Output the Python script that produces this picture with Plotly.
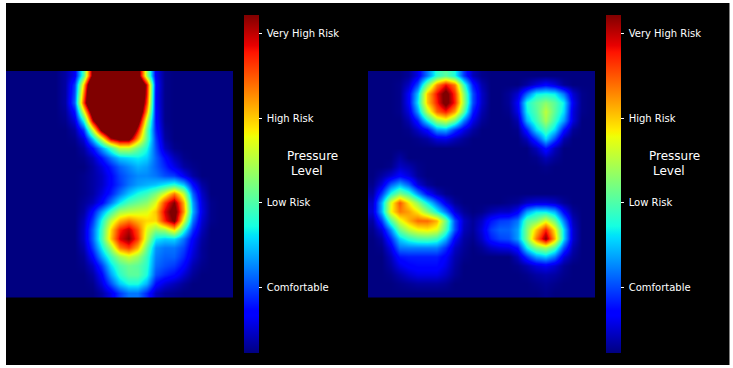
import plotly.graph_objects as go

W = 733
H = 368
TEXT_COLOR = "#FFFFFF"
FONT = "DejaVu Sans"

TICK_VALUES = [19.4, 44.4, 69.4, 94.4]
TICK_LABELS = ["\u00a0Comfortable", "\u00a0Low Risk", "\u00a0High Risk", "\u00a0Very High Risk"]

# pressure, 0-100, values over 100 clip to the darkest red
LEFT_PRESSURE = [
    [0, 0, 0, 0, 0, 0, 3, 10, 45, 105, 130, 140, 140, 135, 110, 55, 10, 1, 0, 0, 0, 0, 0, 0, 0],
    [0, 0, 0, 0, 0, 0, 3, 18, 70, 135, 150, 150, 150, 150, 135, 92, 12, 1, 0, 0, 0, 0, 0, 0, 0],
    [0, 0, 0, 0, 0, 0, 3, 20, 78, 140, 150, 150, 150, 150, 135, 90, 11, 1, 0, 0, 0, 0, 0, 0, 0],
    [0, 0, 0, 0, 0, 0, 3, 22, 85, 140, 150, 150, 150, 150, 130, 85, 11, 1, 0, 0, 0, 0, 0, 0, 0],
    [0, 0, 0, 0, 0, 0, 2, 14, 62, 115, 145, 150, 150, 150, 125, 74, 12, 1, 0, 0, 0, 0, 0, 0, 0],
    [0, 0, 0, 0, 0, 0, 1, 8, 38, 95, 130, 150, 150, 145, 110, 58, 13, 1, 0, 0, 0, 0, 0, 0, 0],
    [0, 0, 0, 0, 0, 0, 0, 3, 18, 60, 105, 130, 140, 130, 92, 48, 15, 2, 0, 0, 0, 0, 0, 0, 0],
    [0, 0, 0, 0, 0, 0, 0, 1, 8, 32, 60, 95, 105, 105, 75, 46, 18, 3, 0, 0, 0, 0, 0, 0, 0],
    [0, 0, 0, 0, 0, 0, 0, 0, 3, 13, 28, 42, 58, 58, 48, 38, 20, 6, 1, 0, 0, 0, 0, 0, 0],
    [0, 0, 0, 0, 0, 0, 0, 0, 1, 5, 14, 24, 32, 34, 36, 33, 22, 13, 5, 1, 0, 0, 0, 0, 0],
    [0, 0, 0, 0, 0, 0, 0, 0, 0, 3, 8, 15, 22, 26, 30, 28, 22, 16, 9, 3, 1, 0, 0, 0, 0],
    [0, 0, 0, 0, 0, 0, 0, 0, 1, 3, 6, 12, 19, 23, 26, 26, 24, 20, 18, 10, 3, 0, 0, 0, 0],
    [0, 0, 0, 0, 0, 0, 0, 0, 1, 3, 6, 12, 18, 24, 28, 30, 32, 36, 40, 32, 13, 3, 0, 0, 0],
    [0, 0, 0, 0, 0, 0, 0, 0, 1, 3, 8, 15, 24, 32, 38, 42, 50, 62, 78, 58, 22, 6, 0, 0, 0],
    [0, 0, 0, 0, 0, 0, 0, 0, 2, 5, 12, 24, 36, 44, 48, 52, 62, 85, 100, 72, 28, 8, 1, 0, 0],
    [0, 0, 0, 0, 0, 0, 0, 0, 3, 13, 28, 42, 55, 58, 60, 62, 70, 92, 106, 75, 30, 9, 1, 0, 0],
    [0, 0, 0, 0, 0, 0, 0, 0, 5, 18, 38, 58, 72, 78, 72, 68, 68, 88, 102, 62, 24, 7, 1, 0, 0],
    [0, 0, 0, 0, 0, 0, 0, 0, 6, 22, 42, 68, 88, 95, 82, 62, 52, 55, 68, 40, 17, 5, 0, 0, 0],
    [0, 0, 0, 0, 0, 0, 0, 0, 6, 22, 43, 70, 92, 100, 85, 58, 36, 33, 34, 24, 11, 3, 0, 0, 0],
    [0, 0, 0, 0, 0, 0, 0, 0, 4, 18, 36, 54, 78, 85, 72, 48, 27, 24, 24, 19, 9, 2, 0, 0, 0],
    [0, 0, 0, 0, 0, 0, 0, 0, 2, 12, 28, 42, 54, 60, 54, 42, 25, 22, 22, 16, 7, 2, 0, 0, 0],
    [0, 0, 0, 0, 0, 0, 0, 0, 1, 6, 18, 34, 44, 48, 46, 40, 23, 20, 18, 12, 4, 1, 0, 0, 0],
    [0, 0, 0, 0, 0, 0, 0, 0, 0, 3, 12, 28, 40, 46, 46, 38, 20, 16, 13, 7, 2, 0, 0, 0, 0],
    [0, 0, 0, 0, 0, 0, 0, 0, 0, 1, 8, 20, 32, 38, 38, 30, 13, 8, 5, 2, 0, 0, 0, 0, 0],
    [0, 0, 0, 0, 0, 0, 0, 0, 0, 0, 3, 9, 18, 24, 24, 16, 5, 2, 1, 0, 0, 0, 0, 0, 0],
]

RIGHT_PRESSURE = [
    [0, 0, 0, 0, 2, 9, 24, 40, 46, 38, 18, 5, 1, 0, 0, 0, 0, 0, 0, 0, 0, 0, 0, 0, 0],
    [0, 0, 0, 1, 6, 20, 50, 76, 90, 78, 42, 15, 4, 0, 0, 0, 0, 3, 8, 12, 8, 2, 0, 0, 0],
    [0, 0, 0, 1, 11, 32, 70, 90, 105, 86, 52, 20, 6, 0, 0, 2, 7, 22, 36, 38, 36, 24, 7, 1, 0],
    [0, 0, 0, 1, 11, 35, 70, 88, 105, 88, 54, 20, 6, 0, 0, 2, 11, 38, 46, 52, 46, 36, 10, 1, 0],
    [0, 0, 0, 1, 8, 28, 58, 80, 88, 74, 46, 15, 4, 0, 0, 1, 9, 36, 45, 58, 46, 34, 8, 1, 0],
    [0, 0, 0, 0, 4, 15, 36, 54, 60, 48, 25, 9, 2, 0, 0, 0, 4, 30, 42, 55, 42, 28, 8, 0, 0],
    [0, 0, 0, 0, 1, 6, 13, 28, 30, 18, 9, 3, 0, 0, 0, 0, 1, 15, 34, 44, 34, 14, 2, 0, 0],
    [0, 0, 0, 0, 0, 1, 3, 8, 9, 5, 2, 0, 0, 0, 0, 0, 0, 5, 18, 34, 20, 4, 0, 0, 0],
    [0, 0, 0, 0, 0, 0, 0, 0, 0, 0, 0, 0, 0, 0, 0, 0, 0, 0, 5, 14, 5, 0, 0, 0, 0],
    [0, 0, 0, 3, 0, 0, 0, 0, 0, 0, 0, 0, 0, 0, 0, 0, 0, 0, 1, 5, 2, 0, 0, 0, 0],
    [0, 0, 1, 6, 4, 1, 0, 0, 0, 0, 0, 0, 0, 0, 0, 0, 0, 0, 0, 1, 0, 0, 0, 0, 0],
    [0, 3, 7, 12, 8, 2, 0, 0, 0, 0, 0, 0, 0, 0, 0, 0, 0, 0, 0, 0, 0, 0, 0, 0, 0],
    [1, 8, 22, 30, 22, 8, 2, 0, 0, 0, 0, 0, 0, 0, 0, 0, 0, 0, 0, 0, 0, 0, 0, 0, 0],
    [3, 18, 38, 50, 42, 27, 13, 5, 1, 0, 0, 0, 0, 0, 0, 0, 0, 0, 0, 0, 0, 0, 0, 0, 0],
    [6, 30, 62, 82, 66, 52, 36, 22, 9, 2, 0, 0, 0, 0, 0, 1, 2, 6, 8, 8, 6, 2, 0, 0, 0],
    [7, 30, 64, 78, 74, 66, 52, 38, 24, 8, 2, 0, 1, 4, 6, 6, 11, 28, 36, 36, 30, 12, 2, 0, 0],
    [3, 18, 44, 62, 72, 80, 80, 72, 48, 20, 6, 2, 6, 14, 18, 19, 24, 45, 50, 62, 48, 25, 5, 0, 0],
    [1, 8, 26, 48, 58, 64, 66, 62, 44, 20, 5, 2, 8, 18, 22, 22, 28, 50, 70, 88, 66, 34, 7, 0, 0],
    [0, 3, 16, 33, 40, 44, 45, 42, 30, 11, 3, 1, 6, 15, 19, 20, 28, 50, 78, 100, 72, 34, 7, 0, 0],
    [0, 1, 9, 24, 25, 25, 25, 25, 17, 6, 2, 0, 2, 6, 8, 9, 14, 36, 50, 55, 44, 20, 4, 0, 0],
    [0, 0, 5, 14, 15, 15, 15, 15, 11, 4, 1, 0, 0, 0, 0, 0, 5, 17, 28, 32, 24, 8, 2, 0, 0],
    [0, 0, 3, 9, 12, 13, 13, 13, 9, 3, 0, 0, 0, 0, 0, 0, 1, 4, 8, 10, 7, 2, 0, 0, 0],
    [0, 0, 1, 4, 7, 9, 9, 9, 6, 2, 0, 0, 0, 0, 0, 0, 0, 1, 3, 4, 3, 1, 0, 0, 0],
    [0, 0, 0, 1, 2, 3, 3, 3, 2, 0, 0, 0, 0, 0, 0, 0, 0, 0, 1, 2, 1, 0, 0, 0, 0],
    [0, 0, 0, 0, 0, 0, 0, 0, 0, 0, 0, 0, 0, 0, 0, 0, 0, 0, 0, 1, 0, 0, 0, 0, 0],
]

JET = [
    [0.0, "rgb(0,0,128)"],
    [0.11, "rgb(0,0,255)"],
    [0.125, "rgb(0,0,255)"],
    [0.34, "rgb(0,219,255)"],
    [0.35, "rgb(0,230,247)"],
    [0.375, "rgb(21,255,226)"],
    [0.64, "rgb(238,255,8)"],
    [0.65, "rgb(247,246,0)"],
    [0.66, "rgb(255,236,0)"],
    [0.89, "rgb(255,19,0)"],
    [0.91, "rgb(232,0,0)"],
    [1.0, "rgb(128,0,0)"],
]


def _heatmap(z, xaxis, yaxis, bar_left):
    return go.Heatmap(
        z=z,
        xaxis=xaxis,
        yaxis=yaxis,
        zmin=0,
        zmax=100,
        zsmooth="best",
        colorscale=JET,
        colorbar=dict(
            x=bar_left / W,
            xanchor="left",
            xpad=0,
            y=1 - 184 / H,
            yanchor="middle",
            ypad=0,
            thickness=15,
            len=338,
            lenmode="pixels",
            outlinewidth=0,
            tickmode="array",
            tickvals=TICK_VALUES,
            ticktext=TICK_LABELS,
            ticks="outside",
            ticklen=3,
            tickwidth=1,
            tickcolor=TEXT_COLOR,
            tickfont=dict(family=FONT, size=10, color=TEXT_COLOR),
        ),
    )


fig = go.Figure()
fig.add_trace(_heatmap(LEFT_PRESSURE, "x", "y", 244))
fig.add_trace(_heatmap(RIGHT_PRESSURE, "x2", "y2", 606))

y_domain = [1 - 297.5 / H, 1 - 71 / H]
axis_style = dict(visible=False, showgrid=False, zeroline=False)
fig.update_layout(
    width=W,
    height=H,
    margin=dict(l=0, r=0, t=0, b=0, autoexpand=False),
    paper_bgcolor="#FFFFFF",
    plot_bgcolor="#000000",
    xaxis=dict(domain=[6 / W, 233 / W], **axis_style),
    yaxis=dict(domain=y_domain, autorange="reversed", **axis_style),
    xaxis2=dict(domain=[368 / W, 595 / W], **axis_style),
    yaxis2=dict(domain=y_domain, autorange="reversed", **axis_style),
)

# black sheet behind both panels, leaves the thin white edge of the picture
fig.add_shape(
    type="rect",
    xref="paper",
    yref="paper",
    x0=6 / W,
    x1=729.5 / W,
    y0=1 - 365 / H,
    y1=1 - 3 / H,
    fillcolor="#000000",
    line_width=0,
    layer="below",
)

for left in [286, 648]:
    for text, top, indent in [("Pressure", 156, 0), ("Level", 171, 4)]:
        fig.add_annotation(
            text=text,
            xref="paper",
            yref="paper",
            x=(left + indent) / W,
            y=1 - top / H,
            xanchor="left",
            yanchor="middle",
            showarrow=False,
            borderpad=0,
            font=dict(family=FONT, size=12, color=TEXT_COLOR),
        )

fig.write_html(
    "out.html",
    config={"displayModeBar": False},
    post_script="document.body.style.margin='0';",
)
